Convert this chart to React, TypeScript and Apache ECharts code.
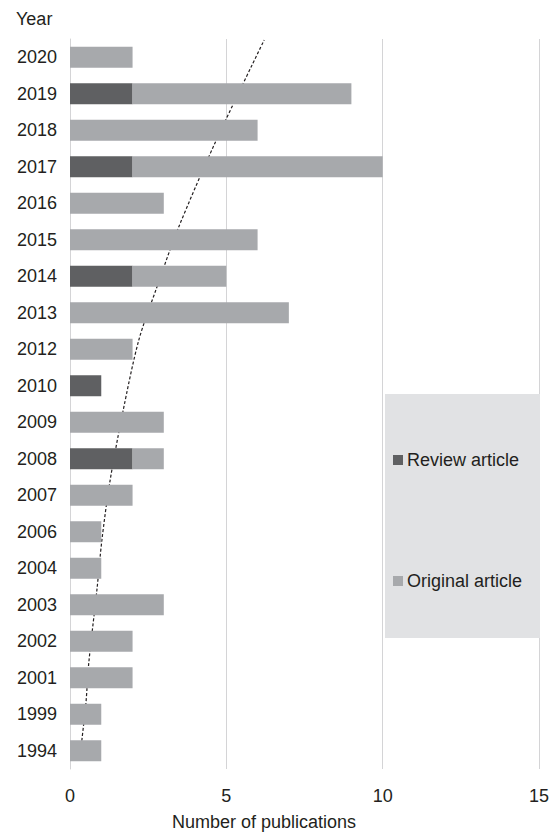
import React, { useEffect, useRef } from "react";
import * as echarts from "echarts";

const years = ["2020", "2019", "2018", "2017", "2016", "2015", "2014", "2013", "2012", "2010", "2009", "2008", "2007", "2006", "2004", "2003", "2002", "2001", "1999", "1994"];
const reviewArticles = [0, 2, 0, 2, 0, 0, 2, 0, 0, 1, 0, 2, 0, 0, 0, 0, 0, 0, 0, 0];
const originalArticles = [2, 7, 6, 8, 3, 6, 3, 7, 2, 0, 3, 1, 2, 1, 1, 3, 2, 2, 1, 1];
// trend curve: [publications, position in rows counted from the bottom edge]
const trendX = [0.35, 0.38, 0.51, 0.6, 0.86, 1.02, 1.27, 1.69, 2.2, 2.77, 3.44, 4.68, 6.21];
const trendRow = [0.5, 0.79, 1.81, 2.9, 4.9, 6.27, 7.84, 9.78, 11.75, 13.18, 14.77, 17.23, 19.97];
const xTicks = [0, 5, 10, 15];

const FONT = "'Liberation Sans', Arial, Helvetica, sans-serif";
const FS = 18;
const TEXT = "#231f20";
const DARK = "#5f6062";
const LIGHT = "#a7a9ac";
const GRIDC = "#d4d4d6";

export default function App() {
  const ref = useRef<HTMLDivElement>(null);
  useEffect(() => {
    document.body.style.margin = "0";
    document.body.style.overflow = "hidden";
    const chart = echarts.init(ref.current!, null, { renderer: "svg" });
    chart.setOption({
      animation: false,
      backgroundColor: "#ffffff",
      textStyle: { fontFamily: FONT },
      grid: { left: 70, right: 11, top: 39, bottom: 64, containLabel: false },
      xAxis: {
        type: "value",
        min: xTicks[0],
        max: xTicks[xTicks.length - 1],
        interval: 5,
        axisLine: { show: false },
        axisTick: { show: false },
        splitLine: { show: true, lineStyle: { color: GRIDC, width: 1 } },
        axisLabel: { color: TEXT, fontSize: FS, fontFamily: FONT, margin: 18 },
      },
      yAxis: [
        {
          type: "category",
          data: years,
          inverse: true,
          axisLine: { show: true, lineStyle: { color: GRIDC, width: 1 } },
          axisTick: { show: false },
          axisLabel: { color: TEXT, fontSize: FS, fontFamily: FONT, margin: 13 },
        },
        { type: "value", min: 0, max: 20, show: false },
      ],
      legend: [
        {
          data: ["Review article"],
          left: 388,
          top: 446,
          icon: "rect",
          itemWidth: 10,
          itemHeight: 10,
          textStyle: { color: TEXT, fontSize: FS, fontFamily: FONT, padding: [0, 0, 0, -1] },
          z: 10,
        },
        {
          data: ["Original article"],
          left: 388,
          top: 567,
          icon: "rect",
          itemWidth: 10,
          itemHeight: 10,
          textStyle: { color: TEXT, fontSize: FS, fontFamily: FONT, padding: [0, 0, 0, -1] },
          z: 10,
        },
      ],
      graphic: [
        {
          type: "rect",
          left: 385,
          top: 394,
          shape: { width: 155, height: 244 },
          style: { fill: "#e1e2e4" },
          z: 5,
        },
        {
          type: "text",
          left: 16,
          top: 10,
          style: { text: "Year", fill: TEXT, fontSize: FS, fontFamily: FONT },
        },
        {
          type: "text",
          x: 264,
          y: 822,
          style: {
            text: "Number of publications",
            fill: TEXT,
            fontSize: FS,
            fontFamily: FONT,
            textAlign: "center",
            textVerticalAlign: "middle",
          },
        },
      ],
      series: [
        {
          name: "Trend",
          type: "line",
          yAxisIndex: 1,
          data: trendX.map((v, i) => [v, trendRow[i]]),
          smooth: 0.3,
          symbol: "none",
          lineStyle: { color: TEXT, width: 1.2, type: [3, 2] },
          z: 1,
        },
        {
          name: "Review article",
          type: "bar",
          stack: "total",
          barWidth: 21,
          data: reviewArticles,
          itemStyle: { color: DARK },
          z: 3,
        },
        {
          name: "Original article",
          type: "bar",
          stack: "total",
          barWidth: 21,
          data: originalArticles,
          itemStyle: { color: LIGHT },
          z: 3,
        },
      ],
    });
    return () => chart.dispose();
  }, []);
  return (
    <div
      ref={ref}
      style={{ position: "fixed", left: 0, top: 0, width: 552, height: 833, overflow: "hidden" }}
    />
  );
}
